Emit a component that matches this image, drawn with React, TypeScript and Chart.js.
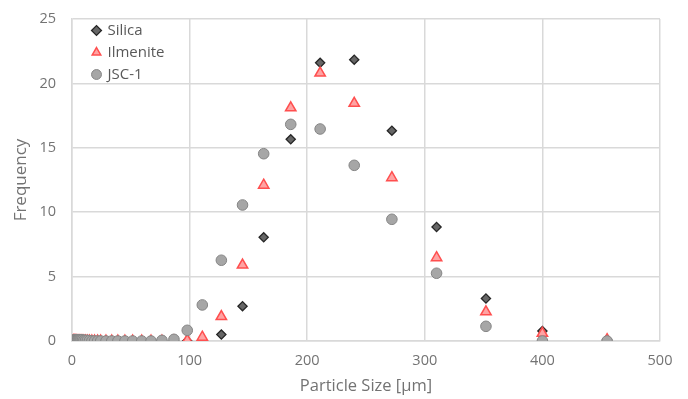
import React, { useEffect, useRef } from "react";
import { Chart, registerables } from "chart.js";

Chart.register(...registerables);

const sizes = [0.9, 1.1, 1.3, 1.5, 1.7, 1.9, 2.2, 2.5, 2.8, 3.2, 3.6, 4.1, 4.7, 5.3, 6.1, 6.9, 7.8, 8.9, 10.1, 11.5, 13.1, 14.9, 16.9, 19.2, 21.8, 24.4, 28.9, 33.8, 39, 45, 51.6, 59.3, 67.2, 76.5, 86.7, 98, 110.8, 127, 145, 163, 186, 211, 240, 272, 310, 352, 400, 455];

const silica = [0.05, 0.05, 0.05, 0.05, 0.05, 0.05, 0.05, 0.05, 0.05, 0.05, 0.05, 0.05, 0, 0, 0, 0, 0, 0, 0, 0, 0, 0, 0, 0, 0, 0, 0, 0, 0, 0, 0, 0, 0, 0, 0, 0, 0, 0.5, 2.7, 8.05, 15.66, 21.6, 21.84, 16.33, 8.85, 3.3, 0.78, 0.1];

const ilmenite = [0, 0, 0, 0, 0, 0, 0, 0, 0, 0, 0, 0, 0, 0, 0, 0, 0, 0, 0, 0, 0, 0, 0, 0, 0, 0, 0, 0, 0, 0, 0, 0, 0, 0, 0, 0.05, 0.3, 1.9, 5.9, 12.1, 18.1, 20.8, 18.45, 12.68, 6.47, 2.27, 0.6, 0.1];

const jsc1 = [null, null, null, null, null, null, 0.1, 0.1, 0.1, 0.1, 0.1, 0.1, 0.1, 0.1, 0.1, 0.1, 0.1, 0.08, 0.05, 0.05, 0.05, 0.03, 0, 0, 0, 0, 0, 0, 0, 0, 0, 0, 0, 0.05, 0.13, 0.83, 2.8, 6.27, 10.56, 14.54, 16.82, 16.46, 13.64, 9.45, 5.26, 1.14, 0, 0];

const xTicks = [0, 100, 200, 300, 400, 500];
const yTicks = [0, 5, 10, 15, 20, 25];

const FONT = "'Open Sans', 'Noto Sans', sans-serif";
const TEXT = "#737373";
const GRID = "#d9d9d9";

function pts(vals: (number | null)[]) {
  const out: { x: number; y: number }[] = [];
  vals.forEach((v, i) => {
    if (v !== null) out.push({ x: sizes[i], y: v });
  });
  return out;
}

const legendShift = {
  id: "legendShift",
  afterLayout(chart: any) {
    const l = chart.legend;
    if (l) {
      const h = l.bottom - l.top;
      l.left = chart.chartArea.left + 14;
      l.right = l.left + l.width;
      l.top = 16;
      l.bottom = l.top + h;
    }
  },
};

export default function App() {
  const ref = useRef<HTMLCanvasElement | null>(null);
  useEffect(() => {
    document.body.style.margin = "0";
    if (!ref.current) return;
    const chart = new Chart(ref.current, {
      type: "scatter",
      data: {
        datasets: [
          {
            label: "Silica",
            data: pts(silica),
            pointStyle: "rectRot",
            pointRadius: 4.6,
            backgroundColor: "#666666",
            borderColor: "#262626",
            borderWidth: 1.3,
            order: 2,
          },
          {
            label: "Ilmenite",
            data: pts(ilmenite),
            pointStyle: "triangle",
            pointRadius: 6,
            backgroundColor: "#ffa3a3",
            borderColor: "#ff4f4f",
            borderWidth: 1.5,
            order: 1,
          },
          {
            label: "JSC-1",
            data: pts(jsc1),
            pointStyle: "circle",
            pointRadius: 5.3,
            backgroundColor: "#a6a6a6",
            borderColor: "#858585",
            borderWidth: 1,
            order: 0,
          },
        ],
      },
      options: {
        animation: false,
        responsive: false,
        maintainAspectRatio: false,
        layout: { padding: { top: 19, right: 28, left: 0, bottom: 0 } },
        plugins: {
          tooltip: { enabled: false },
          legend: {
            position: "chartArea" as any,
            fullSize: false,
            align: "start",
            labels: {
              usePointStyle: true,
              boxWidth: 7,
              boxHeight: 7,
              padding: 7,
              color: "#595959",
              font: { family: FONT, size: 15 },
              sort: (a: any, b: any) => a.datasetIndex - b.datasetIndex,
            },
          },
        },
        scales: {
          x: {
            type: "linear",
            min: 0,
            max: 500,
            afterFit: (s: any) => {
              s.height = 58;
            },
            afterBuildTicks: (s: any) => {
              s.ticks = xTicks.map((v) => ({ value: v }));
            },
            grid: { color: GRID, lineWidth: 1.5, drawTicks: false },
            border: { display: true, color: GRID, width: 1.5 },
            ticks: { color: TEXT, padding: 11, font: { family: FONT, size: 14.5 } },
            title: {
              display: true,
              text: "Particle Size [µm]",
              color: TEXT,
              padding: { top: 2, bottom: 3 },
              font: { family: FONT, size: 16.5 },
            },
          },
          y: {
            type: "linear",
            min: 0,
            max: 25,
            afterFit: (s: any) => {
              s.width = 72;
            },
            afterBuildTicks: (s: any) => {
              s.ticks = yTicks.map((v) => ({ value: v }));
            },
            grid: { color: GRID, lineWidth: 1.5, drawTicks: true, tickLength: 8, tickColor: "rgba(0,0,0,0)" },
            border: { display: true, color: GRID, width: 1.5 },
            ticks: { color: TEXT, padding: 8, font: { family: FONT, size: 14.5 } },
            title: {
              display: true,
              text: "Frequency",
              color: TEXT,
              padding: { top: 11, bottom: 0 },
              font: { family: FONT, size: 17 },
            },
          },
        },
      },
      plugins: [legendShift],
    });
    return () => chart.destroy();
  }, []);
  return (
    <div style={{ position: "relative", width: 688, height: 399, background: "#fff" }}>
      <canvas ref={ref} width={688} height={399} style={{ display: "block", width: 688, height: 399 }} />
    </div>
  );
}
